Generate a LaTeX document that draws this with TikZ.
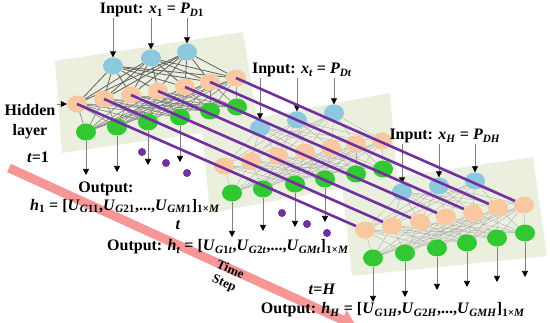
\documentclass[tikz,border=0pt]{standalone}
\usepackage{fontspec}
\setmainfont{Liberation Serif}
\usetikzlibrary{arrows.meta,shapes.geometric}

\definecolor{panelbg}{RGB}{235,239,222}
\definecolor{inblue}{RGB}{140,200,222}
\definecolor{hidorange}{RGB}{250,200,160}
\definecolor{outgreen}{RGB}{50,200,50}
\definecolor{linkpurple}{RGB}{112,48,160}
\definecolor{timepink}{RGB}{246,150,150}

\newcommand{\lo}[1]{\textsubscript{#1}}
\newcommand{\vv}[1]{\textit{#1}}

\pgfdeclarelayer{bg}
\pgfdeclarelayer{wires}
\pgfsetlayers{bg,wires,main}

\begin{document}
\begin{tikzpicture}[x=1pt,y=-1pt,
  every node/.style={font=\fontsize{16}{20}\selectfont\bfseries,inner sep=1pt},
  unit/.style={ellipse,minimum width=20pt,minimum height=17pt,inner sep=0pt},
  inunit/.style={unit,fill=inblue},
  hidunit/.style={unit,fill=hidorange},
  outunit/.style={unit,fill=outgreen},
  panel/.style={fill=panelbg},
  wire/.style={draw=black!35,line width=0.3pt},
  wirea/.style={draw=black!62,line width=0.8pt},
  wireb/.style={draw=black!50,line width=0.6pt},
  feed/.style={draw=black!50,line width=0.7pt,-{Triangle[width=6pt,length=6pt,color=black]}},
  link/.style={draw=linkpurple,line width=2.6pt},
  dot/.style={circle,fill=linkpurple,minimum size=8pt,inner sep=0pt},
  timeline/.style={draw=timepink,line width=9pt,-{Triangle[width=20pt,length=15pt]}}]

\useasboundingbox (0,0) rectangle (550,323);

% time axis
\coordinate (ts0) at (9,168);
\coordinate (ts9) at (356,326);
\draw[timeline] (ts0) -- (ts9);
\node[rotate=-24,align=center,font=\fontsize{13}{15}\selectfont\bfseries] (ts) at (227,277) {Time\\Step};

% t = 1
\begin{pgfonlayer}{bg}
\fill[panel] (55,61) -- (243,32) -- (258,125) -- (62,153) -- cycle;
\end{pgfonlayer}
\foreach \n/\x/\y in {1/113/66,2/151/58,3/187/52}
  \node[inunit] (b1\n) at (\x,\y) {};
\foreach \n/\x/\y in {1/77/104,2/104/99,3/131/95,4/158/91,5/185/87,6/210/82,7/236/78}
  \node[hidunit] (h1\n) at (\x,\y) {};
\foreach \n/\x/\y in {1/86/132,2/117/127,3/148/122,4/180/117,5/210/111,6/237/107}
  \node[outunit] (g1\n) at (\x,\y) {};
\begin{pgfonlayer}{wires}
\foreach \j in {1,...,7} {
  \foreach \i in {1,2,3} \draw[wirea] (b1\i) -- (h1\j);
  \foreach \k in {1,...,6} \draw[wireb] (h1\j) -- (g1\k);
}
\end{pgfonlayer}
\node (in1) at (152,10) {Input: \vv{x}\lo{1} = \vv{P}\lo{\vv{D}1}};
\foreach \n in {1,2,3} \draw[feed] (in1.south -| b1\n) -- (b1\n);
\foreach \n/\y in {1/175,2/172,3/165,4/162} {
  \coordinate (e1\n) at (g1\n |- 0,\y);
  \draw[feed] (g1\n) -- (e1\n);
}
\node[align=center] (hl) at (30,122) {Hidden\\layer};
\draw[feed] (hl.east |- h11) -- (h11);
\node (t1) at (38,157) {\vv{t}=1};
\node (o1a) at (106,189) {Output:};
\node (o1b) at (125,206) {\vv{h}\lo{1} = [\vv{U}\lo{\vv{G}11},\vv{U}\lo{\vv{G}21},...,\vv{U}\lo{\vv{GM}1}]\lo{1×\vv{M}}};

% t
\begin{pgfonlayer}{bg}
\fill[panel] (202,128) -- (390,93) -- (397,178) -- (210,213) -- cycle;
\end{pgfonlayer}
\foreach \n/\x/\y in {1/260/128,2/297/120,3/334/113}
  \node[inunit] (b2\n) at (\x,\y) {};
\foreach \n/\x/\y in {1/224/166,2/251/161,3/278/156,4/305/152,5/331/148,6/356/144,7/382/141}
  \node[hidunit] (h2\n) at (\x,\y) {};
\foreach \n/\x/\y in {1/232/193,2/263/189,3/295/184,4/325/179,5/356/174,6/383/169}
  \node[outunit] (g2\n) at (\x,\y) {};
\begin{pgfonlayer}{wires}
\foreach \j in {1,...,7} {
  \foreach \i in {1,2,3} \draw[wire] (b2\i) -- (h2\j);
  \foreach \k in {1,...,6} \draw[wire] (h2\j) -- (g2\k);
}
\end{pgfonlayer}
\node (in2) at (302,70) {Input: \vv{x}\lo{\vv{t}} = \vv{P}\lo{\vv{Dt}}};
\foreach \n in {1,2,3} \draw[feed] (in2.south -| b2\n) -- (b2\n);
\foreach \n/\y in {1/237,2/231,3/227,4/222} {
  \coordinate (e2\n) at (g2\n |- 0,\y);
  \draw[feed] (g2\n) -- (e2\n);
}
\node (t2) at (178,225) {\vv{t}};
\node (o2) at (228,247) {Output: \vv{h}\lo{\vv{t}} = [\vv{U}\lo{\vv{G}1\vv{t}},\vv{U}\lo{\vv{G}2\vv{t}},...,\vv{U}\lo{\vv{GMt}}]\lo{1×\vv{M}}};

% t = H
\begin{pgfonlayer}{bg}
\fill[panel] (342,185) -- (533,157) -- (547,256) -- (352,276) -- cycle;
\end{pgfonlayer}
\foreach \n/\x/\y in {1/402/192,2/439/186,3/475/181}
  \node[inunit] (b3\n) at (\x,\y) {};
\foreach \n/\x/\y in {1/365/230,2/392/226,3/420/222,4/446/217,5/473/213,6/498/208,7/524/205}
  \node[hidunit] (h3\n) at (\x,\y) {};
\foreach \n/\x/\y in {1/373/258,2/405/253,3/437/248,4/467/243,5/497/238,6/525/233}
  \node[outunit] (g3\n) at (\x,\y) {};
\begin{pgfonlayer}{wires}
\foreach \j in {1,...,7} {
  \foreach \i in {1,2,3} \draw[wire] (b3\i) -- (h3\j);
  \foreach \k in {1,...,6} \draw[wire] (h3\j) -- (g3\k);
}
\end{pgfonlayer}
\node (in3) at (445,136) {Input: \vv{x}\lo{\vv{H}} = \vv{P}\lo{\vv{DH}}};
\foreach \n in {1,2,3} \draw[feed] (in3.south -| b3\n) -- (b3\n);
\foreach \n/\y in {1/302,2/297,3/290,4/287,5/282,6/277} {
  \coordinate (e3\n) at (g3\n |- 0,\y);
  \draw[feed] (g3\n) -- (e3\n);
}
\node (t3) at (322,289) {\vv{t}=\vv{H}};
\node (o3) at (393,310) {Output: \vv{h}\lo{\vv{H}} = [\vv{U}\lo{\vv{G}1\vv{H}},\vv{U}\lo{\vv{G}2\vv{H}},...,\vv{U}\lo{\vv{GMH}}]\lo{1×\vv{M}}};

% memory links
\foreach \n in {1,...,7} \draw[link] (h1\n.center) -- (h3\n);
\foreach \n/\x/\y in {1/142/152,2/166/163,3/187/173,4/282/213,5/307/224,6/327/233}
  \node[dot] (d\n) at (\x,\y) {};
\end{tikzpicture}
\end{document}
